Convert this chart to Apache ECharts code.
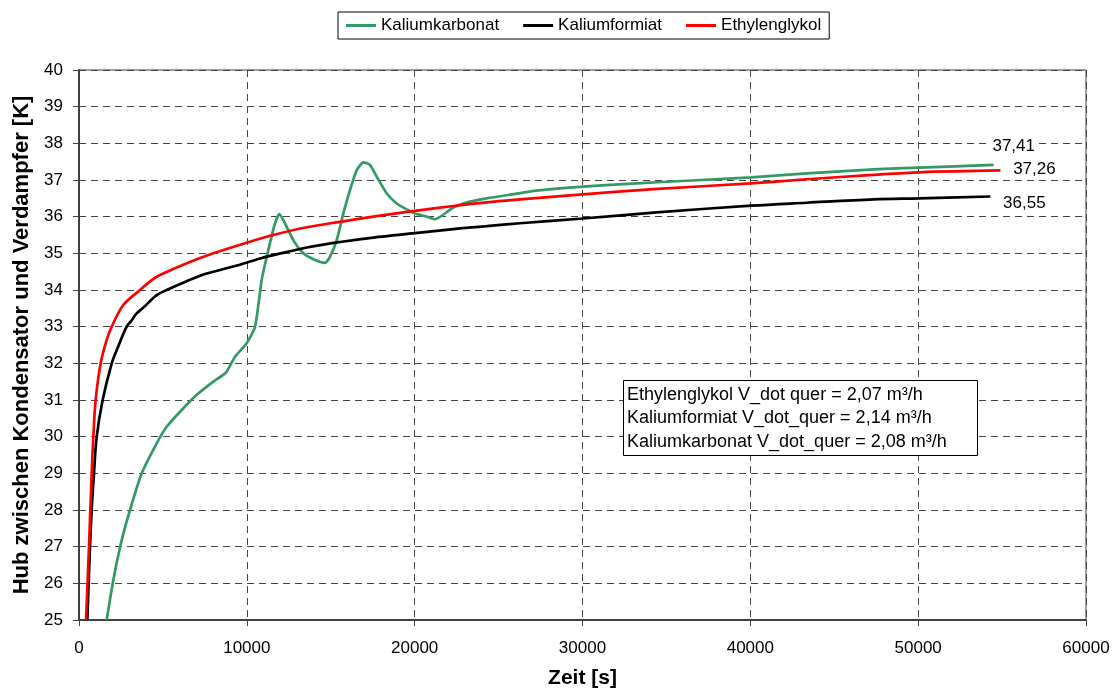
<!DOCTYPE html>
<html>
<head>
<meta charset="utf-8">
<title>Hub zwischen Kondensator und Verdampfer</title>
<script src="https://cdn.jsdelivr.net/npm/echarts@6/dist/echarts.min.js"></script>
<style>
  html, body { margin: 0; padding: 0; background: #fff; }
  #chart { width: 1115px; height: 693px; }
</style>
</head>
<body>
<div id="chart"></div>
<script>
// Measured temperature lift over time for three brines
const seriesNames = ['Kaliumkarbonat', 'Kaliumformiat', 'Ethylenglykol'];

const zeitKarbonat = [1650, 2045, 2545, 3040, 3735, 4630, 5225, 6020, 7015, 8005, 8760, 9295, 9990, 10490,
  10885, 11280, 11680, 11940, 12275, 12770, 13365, 13965, 14660, 14960, 15355, 15750, 16150, 16550, 16945,
  17340, 17740, 18330, 18930, 19525, 20120, 20715, 21200, 22305, 23300, 24295, 25685, 27275, 30010, 33230,
  36210, 40050, 43370, 47340, 50060, 54500];
const hubKarbonat = [25.0, 26.09, 27.18, 28.0, 29.0, 29.82, 30.27, 30.68, 31.14, 31.5, 31.75, 32.18, 32.55, 33.0,
  34.27, 35.09, 35.82, 36.07, 35.82, 35.36, 35.0, 34.84, 34.74, 34.91, 35.36, 36.09, 36.73, 37.27, 37.48,
  37.41, 37.09, 36.64, 36.36, 36.2, 36.07, 36.0, 35.93, 36.25, 36.41, 36.5, 36.6, 36.71, 36.82, 36.91,
  36.98, 37.07, 37.18, 37.29, 37.34, 37.41];

const zeitFormiat = [496, 655, 755, 894, 1055, 1410, 1950, 2300, 2840, 3100, 3435, 3835, 4630, 5225, 6420, 7610,
  9195, 10790, 11580, 13570, 15555, 17540, 20020, 22305, 24295, 26280, 30010, 34225, 40050, 43370, 47340,
  50060, 54300];
const hubFormiat = [25.0, 27.0, 28.0, 29.0, 30.0, 31.0, 32.0, 32.42, 33.0, 33.15, 33.36, 33.52, 33.86, 34.0, 34.24,
  34.45, 34.64, 34.86, 34.95, 35.16, 35.31, 35.43, 35.55, 35.66, 35.74, 35.82, 35.95, 36.11, 36.3, 36.38,
  36.47, 36.5, 36.55];

const zeitGlykol = [417, 596, 755, 855, 993, 1291, 1650, 1950, 2640, 3635, 4330, 4830, 6420, 8005, 9990,
  11580, 13570, 15555, 17540, 20020, 22305, 24295, 26280, 30010, 34225, 40050, 43370, 47340, 50060, 54900];
const hubGlykol = [25.0, 27.0, 29.0, 30.0, 31.0, 32.0, 32.64, 33.0, 33.59, 34.0, 34.27, 34.41, 34.73, 35.0, 35.29,
  35.5, 35.71, 35.86, 36.0, 36.16, 36.29, 36.39, 36.47, 36.61, 36.75, 36.91, 37.02, 37.14, 37.21, 37.26];

const xTicks = { min: 0, max: 60000, step: 10000 };
const yTicks = { min: 25, max: 40, step: 1 };

const infoLines = [
  'Ethylenglykol V_dot quer = 2,07 m³/h',
  'Kaliumformiat V_dot_quer = 2,14 m³/h',
  'Kaliumkarbonat V_dot_quer = 2,08 m³/h'
];

const FONT = '"Liberation Sans", Arial, Helvetica, sans-serif';
const AXIS_COLOR = '#404040';

function pairs(xs, ys) {
  return xs.map((x, i) => [x, ys[i]]);
}

function makeSeries(name, xs, ys, color, labelOffset, smooth) {
  const last = xs.length - 1;
  return {
    name: name,
    type: 'line',
    data: pairs(xs, ys),
    symbol: 'none',
    smooth: smooth,
    lineStyle: { color: color, width: 2.7 },
    itemStyle: { color: color },
    z: 3,
    markPoint: {
      symbol: 'circle',
      symbolSize: 1,
      itemStyle: { color: 'rgba(0,0,0,0)' },
      label: {
        show: true,
        position: 'inside',
        offset: labelOffset,
        color: '#000',
        fontFamily: FONT,
        fontSize: 17,
        backgroundColor: '#fff',
        padding: [1, 2],
        formatter: p => p.value.toFixed(2).replace('.', ',')
      },
      data: [{ coord: [xs[last], ys[last]], value: ys[last] }]
    }
  };
}

const chart = echarts.init(document.getElementById('chart'), null, { renderer: 'canvas' });

chart.setOption({
  animation: false,
  backgroundColor: '#fff',
  textStyle: { fontFamily: FONT },
  grid: {
    left: 79, right: 29, top: 70, bottom: 73,
    containLabel: false,
    outerBoundsMode: 'none',
    show: true, borderColor: AXIS_COLOR, borderWidth: 1
  },
  legend: {
    data: seriesNames,
    left: 338,
    top: 12,
    padding: [5, 8],
    itemGap: 24,
    itemWidth: 30,
    itemHeight: 3,
    icon: 'rect',
    borderColor: '#000',
    borderWidth: 1,
    textStyle: { fontFamily: FONT, fontSize: 17, color: '#000' }
  },
  xAxis: {
    type: 'value',
    min: xTicks.min, max: xTicks.max, interval: xTicks.step,
    name: 'Zeit [s]',
    nameLocation: 'middle',
    nameGap: 48,
    nameTextStyle: { fontFamily: FONT, fontSize: 21, fontWeight: 'bold', color: '#000' },
    axisLine: { show: true, onZero: false, lineStyle: { color: AXIS_COLOR, width: 2 } },
    axisTick: { show: true, inside: false, length: 6, lineStyle: { color: AXIS_COLOR, width: 1 } },
    axisLabel: { margin: 20, fontFamily: FONT, fontSize: 17, color: '#000', formatter: v => String(v) },
    splitLine: { show: true, lineStyle: { color: '#444', width: 1, type: [7, 5] } }
  },
  yAxis: {
    type: 'value',
    min: yTicks.min, max: yTicks.max, interval: yTicks.step,
    name: 'Hub zwischen Kondensator und Verdampfer [K]',
    nameLocation: 'middle',
    nameGap: 46,
    nameTextStyle: { fontFamily: FONT, fontSize: 22, fontWeight: 'bold', color: '#000' },
    axisLine: { show: true, onZero: false, lineStyle: { color: AXIS_COLOR, width: 2 } },
    axisTick: { show: true, inside: false, length: 6, lineStyle: { color: AXIS_COLOR, width: 1 } },
    axisLabel: { margin: 16, fontFamily: FONT, fontSize: 17, color: '#000', formatter: v => String(v) },
    splitLine: { show: true, lineStyle: { color: '#444', width: 1, type: [7, 5] } }
  },
  graphic: [
    {
      type: 'rect',
      left: 623,
      top: 380,
      z: 100,
      shape: { x: 0, y: 0, width: 354, height: 75 },
      style: { fill: '#fff', stroke: '#000', lineWidth: 1 }
    },
    {
      type: 'text',
      left: 627,
      top: 383,
      z: 101,
      style: {
        text: infoLines.join('\n'),
        font: '18px ' + FONT,
        fill: '#000',
        lineHeight: 23.5
      }
    }
  ],
  series: [
    makeSeries(seriesNames[0], zeitKarbonat, hubKarbonat, '#339966', [20, -19], 0.2),
    makeSeries(seriesNames[1], zeitFormiat, hubFormiat, '#000000', [34, 7], 0.35),
    makeSeries(seriesNames[2], zeitGlykol, hubGlykol, '#ff0000', [34, -1], 0.35)
  ]
});
</script>
</body>
</html>
